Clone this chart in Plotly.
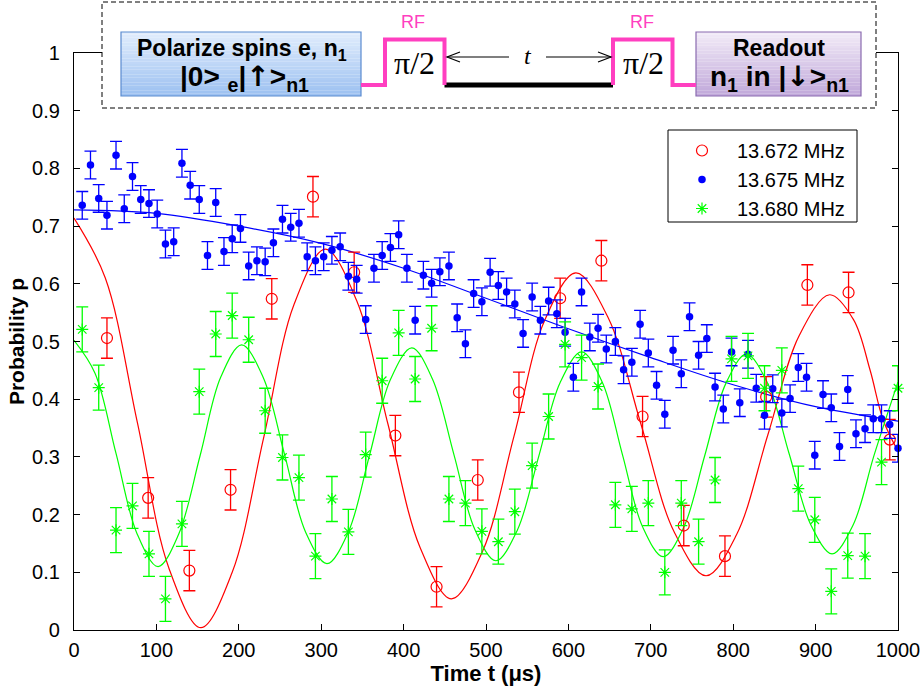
import plotly.graph_objects as go

# ---------------- data ----------------
red_t = [40, 90, 140, 190, 240, 290, 340, 390, 440, 490, 540, 590, 640, 690, 740, 790, 840, 890, 940, 990]
red_p = [0.506, 0.229, 0.103, 0.243, 0.574, 0.751, 0.620, 0.337, 0.075, 0.260,
         0.412, 0.575, 0.640, 0.370, 0.181, 0.128, 0.404, 0.598, 0.585, 0.330]
red_err = [0.035] * len(red_t)

blue_t = [10, 20, 30, 40, 51, 61, 71, 81, 91, 101, 111, 121, 131, 141, 152, 162, 172, 182, 192, 202,
          212, 222, 232, 242, 253, 263, 273, 283, 293, 303, 313, 323, 333, 343, 354, 364, 374, 384, 394, 404,
          414, 424, 434, 444, 455, 465, 475, 485, 495, 505, 515, 525, 535, 545, 556, 566, 576, 586, 596, 606,
          616, 626, 636, 646, 657, 667, 677, 687, 697, 707, 717, 727, 737, 747, 758, 768, 778, 788, 798, 808,
          818, 828, 838, 848, 859, 869, 879, 889, 899, 909, 919, 929, 939, 949, 960, 970, 980, 990, 1000]
blue_p = [0.736, 0.806, 0.748, 0.719, 0.823, 0.730, 0.786, 0.746, 0.739, 0.721,
          0.669, 0.673, 0.809, 0.771, 0.746, 0.649, 0.741, 0.656, 0.678, 0.696,
          0.631, 0.640, 0.638, 0.671, 0.712, 0.698, 0.705, 0.647, 0.640, 0.647,
          0.658, 0.664, 0.613, 0.608, 0.538, 0.627, 0.649, 0.663, 0.685, 0.627,
          0.537, 0.615, 0.601, 0.621, 0.631, 0.541, 0.496, 0.583, 0.569, 0.620,
          0.597, 0.586, 0.565, 0.514, 0.577, 0.537, 0.570, 0.548, 0.516, 0.438,
          0.586, 0.508, 0.523, 0.487, 0.500, 0.451, 0.464, 0.530, 0.480, 0.424,
          0.374, 0.485, 0.444, 0.543, 0.476, 0.505, 0.421, 0.383, 0.482, 0.394,
          0.478, 0.419, 0.372, 0.418, 0.376, 0.401, 0.455, 0.438, 0.303, 0.408,
          0.385, 0.318, 0.417, 0.340, 0.349, 0.366, 0.366, 0.356, 0.315]
blue_err = [0.024] * len(blue_t)

green_t = [10, 30, 51, 71, 91, 111, 131, 152, 172, 192, 212, 232, 253, 273, 293, 313, 333, 354, 374, 394,
           414, 434, 455, 475, 495, 515, 535, 556, 576, 596, 616, 636, 657, 677, 697, 717, 737, 758, 778, 798,
           818, 838, 859, 879, 899, 919, 939, 960, 980, 1000]
green_p = [0.521, 0.420, 0.173, 0.215, 0.132, 0.054, 0.184, 0.413, 0.513, 0.545,
           0.503, 0.380, 0.299, 0.264, 0.128, 0.227, 0.170, 0.304, 0.432, 0.515,
           0.435, 0.523, 0.227, 0.220, 0.171, 0.153, 0.205, 0.285, 0.370, 0.495,
           0.472, 0.422, 0.217, 0.210, 0.220, 0.100, 0.220, 0.153, 0.260, 0.470,
           0.475, 0.419, 0.450, 0.245, 0.191, 0.067, 0.129, 0.128, 0.291, 0.419]
green_err = [0.039] * len(green_t)

# fitted curves
red_fit_t = [0, 38, 77, 115, 154, 192, 230, 267, 305, 343, 381, 420, 458, 496, 534, 571, 609,
             648, 688, 728, 767, 804, 842, 880, 917, 946, 966, 982, 1000]
red_fit_p = [0.714, 0.610, 0.359, 0.108, 0.004, 0.100, 0.332, 0.564, 0.660, 0.571, 0.357, 0.143,
             0.054, 0.137, 0.336, 0.536, 0.619, 0.542, 0.357, 0.171, 0.094, 0.165, 0.338, 0.510,
             0.581, 0.538, 0.451, 0.364, 0.310]
blue_fit_t = [0, 100, 200, 300, 400, 500, 600, 700, 800, 900, 1000]
blue_fit_p = [0.728, 0.722, 0.700, 0.670, 0.627, 0.575, 0.522, 0.472, 0.425, 0.387, 0.362]
green_fit_t = [0, 25.5, 51, 76.5, 102, 127, 153, 178, 203.5, 229.5, 255.5, 281, 307, 333, 358.5, 384,
               410, 435, 461, 486.5, 512, 538, 564, 590, 616, 641, 665.5, 690, 715, 740, 765.5, 791,
               816, 842, 868, 894, 920, 945.5, 971, 1000]
green_fit_p = [0.502, 0.445, 0.306, 0.167, 0.110, 0.166, 0.302, 0.438, 0.494, 0.438, 0.3045, 0.170,
               0.115, 0.170, 0.302, 0.434, 0.489, 0.435, 0.3045, 0.174, 0.120, 0.173, 0.301, 0.429,
               0.482, 0.430, 0.3045, 0.179, 0.127, 0.178, 0.3025, 0.427, 0.478, 0.427, 0.305, 0.183,
               0.132, 0.182, 0.303, 0.430]

series_names = ["13.672 MHz", "13.675 MHz", "13.680 MHz"]
x_ticks = [0, 100, 200, 300, 400, 500, 600, 700, 800, 900, 1000]
y_ticks = [0, 0.1, 0.2, 0.3, 0.4, 0.5, 0.6, 0.7, 0.8, 0.9, 1]
y_ticktext = ["0", "0.1", "0.2", "0.3", "0.4", "0.5", "0.6", "0.7", "0.8", "0.9", "1"]

RED, BLUE, GREEN = "#ff0000", "#0000ff", "#00ff00"
PINK = "#ff3fc0"

# ---------------- geometry helpers (pixel -> paper) ----------------
W, H = 923, 692
L, R, T, B = 74, 25, 53, 62
PW, PH = W - L - R, H - T - B


def fx(x):
    return (x - L) / PW


def fy(y):
    return (H - B - y) / PH


fig = go.Figure()

# fit curves
for t, p, c in [(red_fit_t, red_fit_p, RED), (blue_fit_t, blue_fit_p, BLUE), (green_fit_t, green_fit_p, GREEN)]:
    fig.add_trace(go.Scatter(x=t, y=p, mode="lines", showlegend=False, hoverinfo="skip",
                             line=dict(color=c, width=1.2, shape="spline", smoothing=1.0)))

# data with error bars
fig.add_trace(go.Scatter(x=red_t, y=red_p, mode="markers", name=series_names[0], cliponaxis=False,
                         marker=dict(symbol="circle-open", size=11, color=RED, line=dict(width=1.2, color=RED)),
                         error_y=dict(type="data", array=red_err, color=RED, thickness=1.3, width=6)))
fig.add_trace(go.Scatter(x=blue_t, y=blue_p, mode="markers", name=series_names[1], cliponaxis=False,
                         marker=dict(symbol="circle", size=7.5, color=BLUE),
                         error_y=dict(type="data", array=blue_err, color=BLUE, thickness=1.3, width=6)))
fig.add_trace(go.Scatter(x=green_t, y=green_p, mode="markers", name=series_names[2], cliponaxis=False,
                         marker=dict(symbol="asterisk-open", size=10, color=GREEN, line=dict(width=1.2, color=GREEN)),
                         error_y=dict(type="data", array=green_err, color=GREEN, thickness=1.3, width=6)))

shapes = []
annotations = []

# legend box
shapes.append(dict(type="rect", xref="paper", yref="paper", x0=fx(668), x1=fx(857), y0=fy(222), y1=fy(130),
                   line=dict(color="black", width=1), fillcolor="white", layer="below"))

# ---------------- inset pulse-sequence diagram ----------------
DX0, DX1, DY0, DY1 = 102, 876, 2, 108
shapes.append(dict(type="rect", xref="paper", yref="paper", x0=fx(DX0), x1=fx(DX1), y0=fy(DY1), y1=fy(DY0),
                   line=dict(color="black", width=1, dash="5px,3px"), fillcolor="white", layer="above"))


def hexmix(c1, c2, f):
    a = [int(c1[i:i + 2], 16) for i in (1, 3, 5)]
    b = [int(c2[i:i + 2], 16) for i in (1, 3, 5)]
    return "#" + "".join("%02x" % round(a[k] + (b[k] - a[k]) * f) for k in range(3))


def grad_box(x0, x1, y0, y1, ctop, cbot, border):
    n = 24
    h = (y1 - y0) / n
    for i in range(n):
        shapes.append(dict(type="rect", xref="paper", yref="paper", x0=fx(x0), x1=fx(x1),
                           y0=fy(y0 + (i + 1) * h), y1=fy(y0 + i * h), line=dict(width=0),
                           fillcolor=hexmix(ctop, cbot, i / (n - 1)), layer="above"))
    shapes.append(dict(type="rect", xref="paper", yref="paper", x0=fx(x0), x1=fx(x1), y0=fy(y1), y1=fy(y0),
                       line=dict(color=border, width=1.2), fillcolor="rgba(0,0,0,0)", layer="above"))


grad_box(121, 361, 32, 96, "#e0ecfc", "#9dc1f1", "#5b8bd0")
grad_box(696, 861, 32, 96, "#f1eaf7", "#c1a9da", "#8a6bb0")


def path(pts):
    return "M " + " L ".join("%f,%f" % (fx(a), fy(b)) for a, b in pts)


BASE, TOP = 85, 39.5
shapes.append(dict(type="path", xref="paper", yref="paper", layer="above",
                   path=path([(444.5, BASE), (613, BASE)]), line=dict(color="black", width=5)))
shapes.append(dict(type="path", xref="paper", yref="paper", layer="above",
                   path=path([(361, BASE), (385, BASE), (385, TOP), (444.5, TOP), (444.5, BASE)]),
                   line=dict(color=PINK, width=4)))
shapes.append(dict(type="path", xref="paper", yref="paper", layer="above",
                   path=path([(613, BASE), (613, TOP), (672.5, TOP), (672.5, BASE), (696, BASE)]),
                   line=dict(color=PINK, width=4)))

# double arrow with t
AY = 57
for seg in [[(447, AY), (509, AY)], [(546, AY), (611, AY)],
            [(460, AY - 5), (447, AY), (460, AY + 5)], [(598, AY - 5), (611, AY), (598, AY + 5)]]:
    shapes.append(dict(type="path", xref="paper", yref="paper", layer="above", path=path(seg),
                       line=dict(color="black", width=1.2)))


def ann(x, y, text, size, color="black", family="Liberation Sans, Arial, sans-serif"):
    annotations.append(dict(x=fx(x), y=fy(y), xref="paper", yref="paper", text=text, showarrow=False,
                            xanchor="center", yanchor="middle", font=dict(size=size, color=color, family=family)))


ARW = '<span style="font-family:DejaVu Sans">%s</span>'
ann(413, 22, "RF", 18, PINK)
ann(642, 22, "RF", 18, PINK)
ann(414, 63, "π/2", 32, "black", "Liberation Serif, Times New Roman, serif")
ann(643, 63, "π/2", 32, "black", "Liberation Serif, Times New Roman, serif")
ann(527.5, 56, "<i>t</i>", 24, "black", "Liberation Serif, Times New Roman, serif")
ann(242, 49, "<b>Polarize spins e, n<sub>1</sub></b>", 23)
ann(244, 78, "<b>|0&gt; <sub>e</sub>|" + ARW % "↑" + "&gt;<sub>n1</sub></b>", 28)
ann(779, 48, "<b>Readout</b>", 23)
ann(779, 78, "<b>n<sub>1</sub> in |" + ARW % "↓" + "&gt;<sub>n1</sub></b>", 28)

fig.update_layout(
    width=W, height=H,
    margin=dict(l=L, r=R, t=T, b=B, pad=0, autoexpand=False),
    paper_bgcolor="white", plot_bgcolor="white",
    font=dict(family="Liberation Sans, Arial, sans-serif", size=20, color="black"),
    xaxis=dict(range=[0, 1000], tickvals=x_ticks, ticks="inside", ticklen=6, tickwidth=1, tickcolor="black",
               showline=True, linecolor="black", linewidth=1.3, mirror="ticks", showgrid=False, zeroline=False,
               ticklabelstandoff=2, tickfont=dict(size=20), automargin=False,
               title=dict(text="<b>Time t (μs)</b>", font=dict(size=22), standoff=3)),
    yaxis=dict(range=[0, 1], tickvals=y_ticks, ticktext=y_ticktext, ticks="inside", ticklen=6, tickwidth=1,
               tickcolor="black", showline=True, linecolor="black", linewidth=1.3, mirror="ticks",
               showgrid=False, zeroline=False, ticklabelstandoff=9, tickfont=dict(size=20), automargin=False,
               title=dict(text="<b>Probability p</b>", font=dict(size=21), standoff=1)),
    legend=dict(x=fx(667), y=fy(131), xanchor="left", yanchor="top", bgcolor="rgba(0,0,0,0)", borderwidth=0,
                font=dict(size=20), itemwidth=60, tracegroupgap=0),
    shapes=shapes, annotations=annotations,
    showlegend=True,
)

fig.write_html("out.html", config={"displayModeBar": False},
               post_script="document.body.style.margin='0px';")
